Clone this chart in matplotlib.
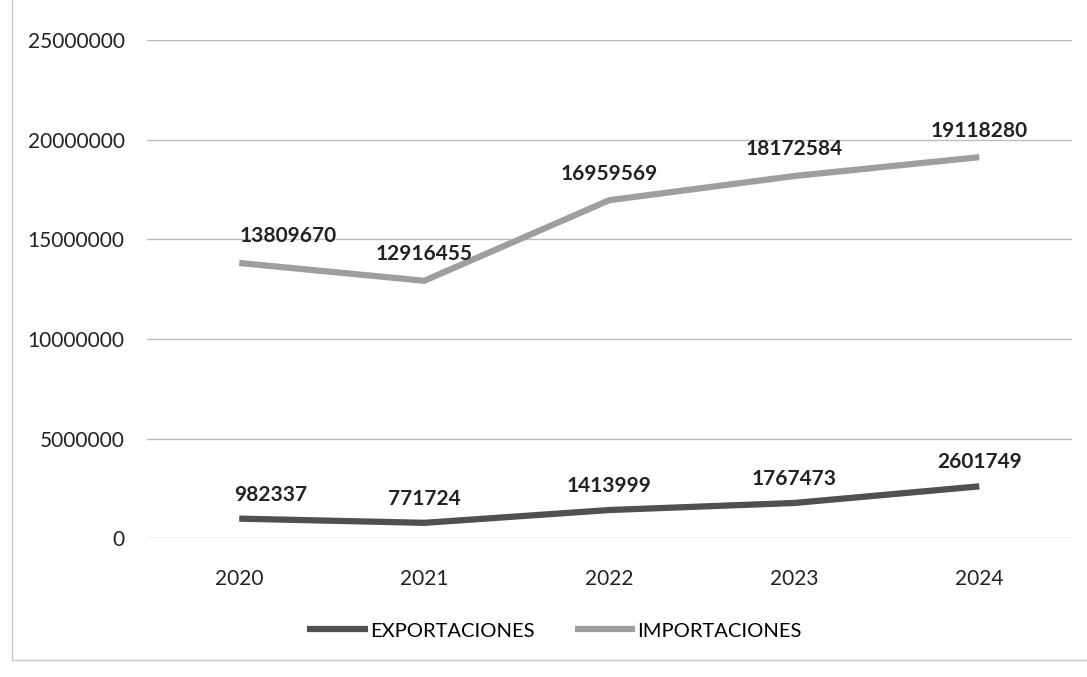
import matplotlib.pyplot as plt
from matplotlib.patches import Rectangle

# datos
years = ["2020", "2021", "2022", "2023", "2024"]
exportaciones = [982337, 771724, 1413999, 1767473, 2601749]
importaciones = [13809670, 12916455, 16959569, 18172584, 19118280]
yticks = [0, 5000000, 10000000, 15000000, 20000000, 25000000]

plt.rcParams['font.family'] = ['Lato', 'DejaVu Sans']

fig = plt.figure(figsize=(10.87, 6.77), dpi=100)
ax = fig.add_axes([0.135, 0.205, 0.851, 0.736])

x = list(range(len(years)))
ax.plot(x, exportaciones, color='#505050', lw=4.5, solid_capstyle='butt', label='EXPORTACIONES', zorder=3)
ax.plot(x, importaciones, color='#9e9e9e', lw=4.5, solid_capstyle='butt', label='IMPORTACIONES', zorder=3)

for i, v in enumerate(exportaciones):
    ha = 'left' if i == 0 else 'center'
    dx = -4 if i == 0 else 0
    ax.annotate(str(v), (i, v), xytext=(dx, 10), textcoords='offset points',
                ha=ha, va='bottom', fontsize=15, fontweight='bold', color='#222222')
for i, v in enumerate(importaciones):
    ha = 'left' if i == 0 else 'center'
    ax.annotate(str(v), (i, v), xytext=(0, 12), textcoords='offset points',
                ha=ha, va='bottom', fontsize=15, fontweight='bold', color='#222222')

ax.set_xlim(-0.5, len(years) - 0.5)
ax.set_ylim(0, 25000000)
ax.set_yticks(yticks)
ax.set_yticklabels([str(t) for t in yticks])
ax.set_xticks(x)
ax.set_xticklabels(years)
ax.tick_params(axis='both', length=0, labelsize=15, colors='#222222')
ax.tick_params(axis='y', pad=16)
ax.tick_params(axis='x', pad=22)
ax.grid(axis='y', color='#bdbdbd', lw=1)
ax.set_axisbelow(True)
for s in ax.spines.values():
    s.set_visible(False)

fig.legend(loc='center', bbox_to_anchor=(0.51, 0.068), ncol=2, frameon=False,
           fontsize=14.5, handlelength=3.0, handletextpad=0.1, columnspacing=2.0)

# borde del area del grafico
fig.add_artist(Rectangle((0.011, 0.025), 1.2, 1.2, transform=fig.transFigure,
                         fill=False, edgecolor='#c8c8c8', lw=1))

fig.savefig('out.png', dpi=100)
